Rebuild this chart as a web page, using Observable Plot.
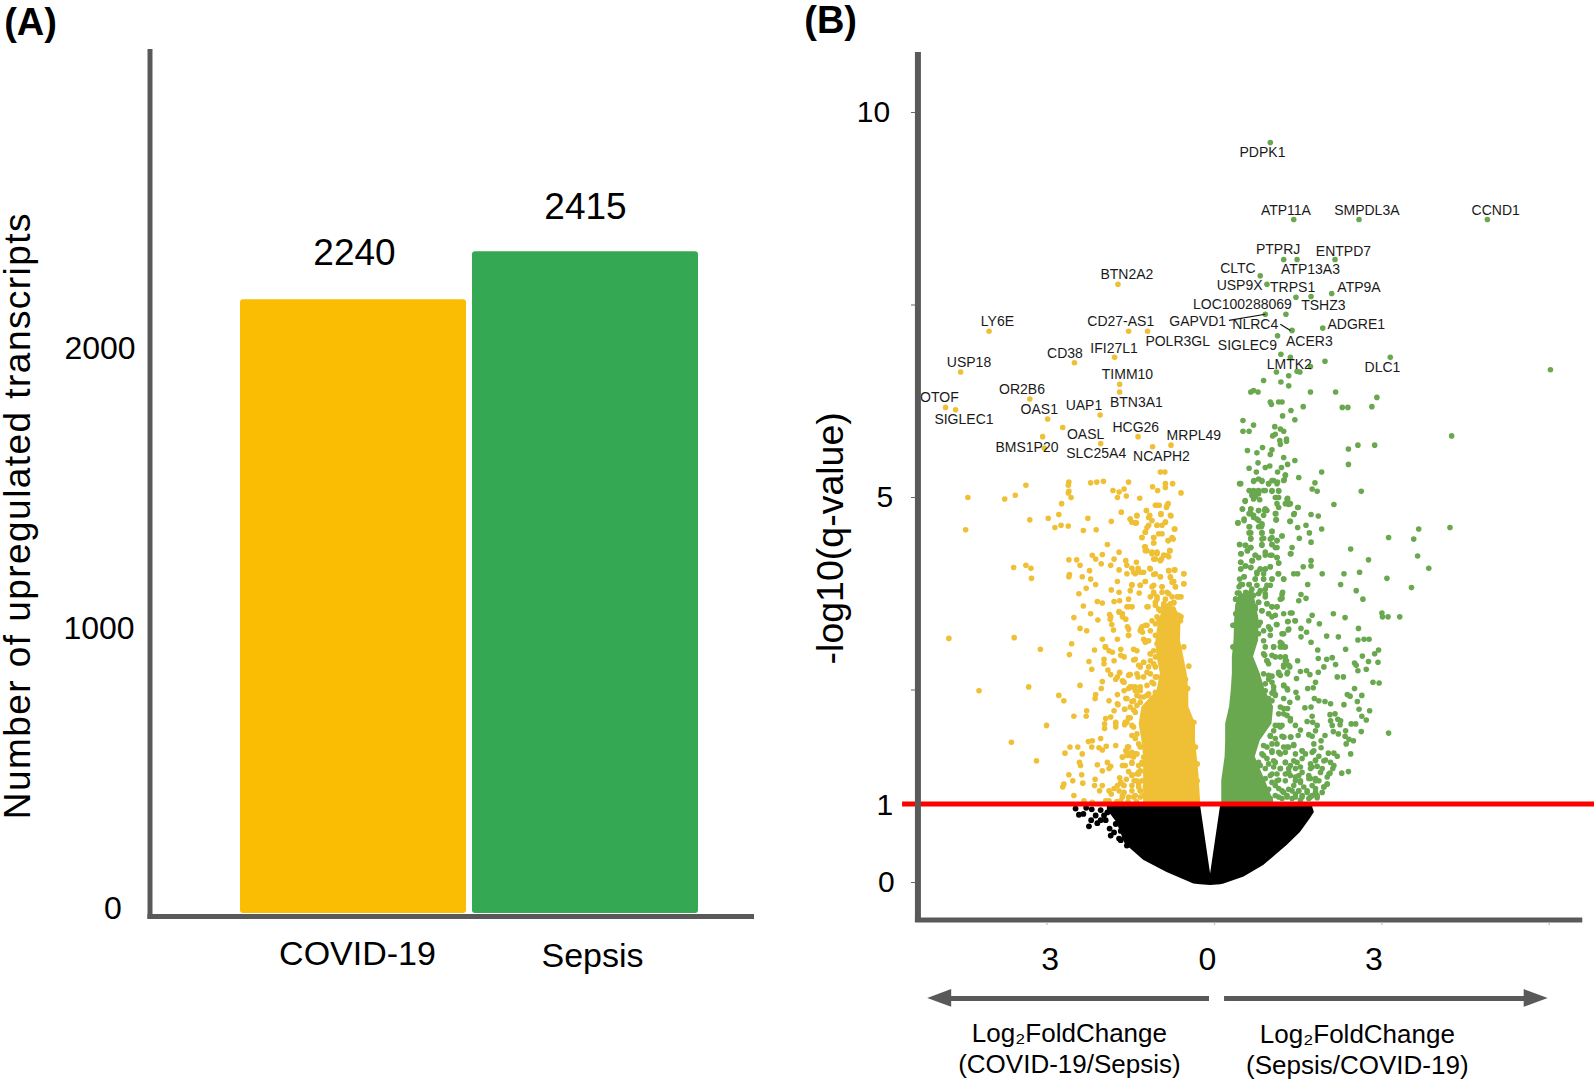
<!DOCTYPE html>
<html><head><meta charset="utf-8">
<script src="https://cdn.jsdelivr.net/npm/d3@7"></script>
<script src="https://cdn.jsdelivr.net/npm/@observablehq/plot@0.6"></script>
<style>
html,body{margin:0;padding:0;background:#fff;overflow:hidden}
#a,#b{position:absolute;top:0}
#a{left:0}#b{left:790px}
svg{overflow:visible;background:transparent;font-family:"Liberation Sans",Arial,sans-serif}
.ylab-a text{letter-spacing:1.45px}
</style></head><body><div id="a"></div><div id="b"></div>
<script>
// Panel A
const groups=["COVID-19","Sepsis"];
const transcripts=[2240,2415];
const barColors=["#FBBC04","#34A853"];
const yTicksA=[0,1000,2000];

// Panel B: named genes [log2FC, -log10 q]
const yellowGenes=[[-1.73,7.77],[-4.04,7.16],[-1.54,7.16],[-1.20,7.16],[-2.51,6.75],[-1.79,6.82],[-4.55,6.63],[-1.70,6.47],[-1.70,6.37],[-3.31,6.28],[-4.82,6.17],[-4.64,6.14],[-2.05,6.07],[-2.99,6.02],[-2.72,5.91],[-3.08,5.79],[-3.05,5.64],[-2.04,5.70],[-1.37,5.79],[-0.78,5.68],[-1.11,5.66],[-0.97,5.33],[-0.89,5.33]];
const greenGenes=[[1.00,9.61],[1.42,8.61],[2.59,8.61],[4.89,8.61],[1.24,8.09],[1.48,8.09],[2.16,8.09],[0.82,7.88],[0.94,7.77],[2.10,7.65],[1.46,7.60],[1.73,7.61],[1.28,7.38],[0.91,7.38],[1.94,7.20],[1.39,7.17],[1.13,7.10],[1.19,6.86],[3.15,6.82],[1.98,6.77],[1.36,6.82],[1.72,6.70],[1.11,6.63],[1.33,6.58],[1.48,6.64],[1.53,6.63],[6.02,6.66]];

const yellowPoints=[[-2.61,5.20],[-2.62,5.16],[-2.61,5.08],[-2.62,5.06],[-2.57,5.00],[-3.38,5.16],[-3.57,5.03],[-3.76,4.98],[-4.42,5.00],[-4.46,4.58],[-2.22,5.19],[-2.11,5.20],[-1.99,5.21],[-1.54,5.20],[-1.82,5.09],[-1.71,5.07],[-1.62,5.11],[-1.74,5.00],[-1.58,5.02],[-1.34,4.99],[-1.11,5.14],[-1.02,5.09],[-0.88,5.18],[-0.88,5.13],[-0.75,5.18],[-0.60,5.06],[-2.74,4.92],[-2.79,4.78],[-2.98,4.73],[-3.31,4.71],[-2.86,4.61],[-2.75,4.64],[-2.62,4.63],[-2.35,4.57],[-2.27,4.73],[-2.12,4.58],[-1.85,4.69],[-1.67,4.81],[-1.51,4.72],[-1.39,4.76],[-1.48,4.68],[-1.40,4.67],[-1.22,4.83],[-1.03,4.90],[-0.85,4.90],[-0.79,4.77],[-0.96,4.79],[-1.18,4.74],[-0.88,4.68],[-1.03,4.64],[-1.21,4.61],[-0.72,4.59],[-1.24,4.55],[-1.30,4.48],[-1.09,4.48],[-0.94,4.53],[-0.76,4.48],[-0.83,4.44],[-1.09,4.41],[-1.25,4.36],[-0.80,4.31],[-1.21,4.31],[-1.12,4.27],[-1.03,4.29],[-1.06,4.20],[-0.91,4.25],[-0.82,4.23],[-0.97,4.18],[-1.92,4.39],[-1.71,4.29],[-2.19,4.25],[-2.01,4.26],[-2.13,4.20],[-2.61,4.19],[-2.47,4.19],[-2.41,4.12],[-1.80,4.20],[-1.59,4.18],[-2.03,4.14],[-1.86,4.12],[-1.40,4.16],[-1.57,4.12],[-3.60,4.09],[-3.38,4.12],[-3.29,4.08],[-3.28,3.95],[-2.60,4.00],[-2.61,3.97],[-2.24,4.05],[-1.71,4.06],[-1.48,4.08],[-1.37,4.08],[-1.16,4.08],[-0.82,4.05],[-0.71,4.06],[-0.55,4.01],[-2.37,3.97],[-2.22,3.94],[-1.57,4.01],[-1.42,4.01],[-1.33,4.03],[-1.09,4.00],[-0.97,3.97],[-0.79,3.96],[-1.74,3.91],[-2.13,3.87],[-2.30,3.82],[-1.24,3.91],[-1.48,3.87],[-1.33,3.86],[-0.76,3.90],[-0.55,3.88],[-0.70,3.84],[-0.94,3.84],[-1.12,3.84],[-1.85,3.80],[-1.51,3.79],[-1.35,3.76],[-2.43,3.75],[-1.71,3.77],[-0.85,3.77],[-1.80,3.65],[-1.70,3.66],[-2.10,3.65],[-2.01,3.63],[-1.54,3.68],[-0.67,3.71],[-0.60,3.71],[-2.35,3.59],[-1.57,3.58],[-1.48,3.58],[-1.19,3.58],[-1.71,3.52],[-2.22,3.49],[-1.88,3.48],[-2.52,3.44],[-2.09,3.41],[-1.65,3.49],[-1.59,3.42],[-1.87,3.42],[-0.60,3.45],[-0.67,3.36],[-1.84,3.35],[-1.56,3.32],[-1.32,3.29],[-1.21,3.34],[-2.41,3.30],[-2.29,3.27],[-1.81,3.28],[-1.29,3.25],[-1.54,3.21],[-1.74,3.16],[-2.01,3.16],[-1.24,3.14],[-1.18,3.14],[-3.59,3.18],[-4.76,3.17],[-2.56,3.10],[-3.12,3.03],[-1.96,3.06],[-1.89,3.01],[-1.68,3.03],[-1.45,3.03],[-2.15,3.02],[-2.60,2.96],[-1.68,2.95],[-1.15,2.97],[-1.98,2.90],[-1.80,2.88],[-2.25,2.87],[-1.45,2.89],[-1.27,2.86],[-1.98,2.84],[-2.20,2.77],[-1.91,2.76],[-1.33,2.80],[-1.21,2.73],[-1.86,2.70],[-1.70,2.72],[-1.51,2.70],[-1.37,2.67],[-2.01,2.61],[-1.77,2.64],[-1.64,2.61],[-2.41,2.56],[-2.03,2.52],[-4.22,2.49],[-3.33,2.54],[-1.51,2.54],[-1.33,2.54],[-1.42,2.49],[-2.79,2.43],[-2.13,2.44],[-1.74,2.44],[-1.62,2.49],[-2.14,2.39],[-2.70,2.36],[-1.89,2.36],[-1.57,2.39],[-1.45,2.36],[-1.33,2.41],[-1.21,2.43],[-1.73,2.31],[-2.29,2.23],[-1.80,2.23],[-1.61,2.25],[-1.45,2.24],[-2.30,2.16],[-2.52,2.16],[-1.95,2.13],[-1.86,2.15],[-1.51,2.14],[-1.57,2.08],[-1.77,2.08],[-1.97,2.06],[-1.61,2.05],[-3.01,2.04],[-1.77,2.02],[-1.97,2.00],[-1.45,2.02],[-1.39,1.93],[-1.27,1.95],[-2.04,1.87],[-2.26,1.83],[-2.19,1.84],[-3.64,1.82],[-1.21,1.84],[-2.20,1.76],[-2.59,1.76],[-2.45,1.76],[-2.07,1.75],[-1.94,1.77],[-1.77,1.78],[-2.01,1.72],[-1.55,1.76],[-1.33,1.76],[-2.68,1.68],[-2.37,1.67],[-1.57,1.69],[-1.39,1.67],[-1.65,1.63],[-1.45,1.63],[-3.19,1.58],[-2.42,1.56],[-2.40,1.52],[-2.10,1.53],[-1.92,1.56],[-1.86,1.51],[-1.65,1.52],[-1.48,1.55],[-2.01,1.45],[-1.89,1.48],[-1.33,1.45],[-2.61,1.40],[-2.38,1.40],[-1.48,1.40],[-1.36,1.41],[-2.14,1.34],[-2.54,1.32],[-2.36,1.29],[-2.70,1.28],[-1.68,1.30],[-1.74,1.26],[-2.15,1.26],[-2.01,1.26],[-1.64,1.27],[-1.39,1.32],[-2.72,1.24],[-1.80,1.22],[-1.36,1.24],[-2.06,1.19],[-1.89,1.19],[-1.85,1.15],[-1.62,1.17],[-1.48,1.19],[-2.52,1.13],[-1.65,1.11],[-1.45,1.11],[-2.34,1.06],[-2.19,1.04],[-1.95,1.06],[-1.89,1.06],[-1.68,1.06]];
const yellowDensePoints=[[-1.21,2.23],[-1.27,2.15],[-1.18,2.06],[-1.30,2.04],[-1.15,1.97],[-1.24,1.80],[-1.12,1.74],[-1.27,1.63],[-1.18,1.56],[-1.30,1.54],[-1.24,1.43],[-1.18,1.35],[-1.30,1.32],[-1.24,1.24],[-1.33,1.19],[-1.27,1.13],[-1.18,1.09],[-1.03,3.71],[-1.09,3.75],[-1.06,3.64],[-1.00,3.55],[-0.91,3.62],[-0.79,3.62],[-0.73,3.64],[-0.70,3.49],[-0.55,3.06],[-0.46,2.81],[-0.52,2.64],[-0.48,2.52],[-0.37,2.08],[-0.34,1.76],[-0.31,1.54],[-0.31,1.32],[-1.06,3.36],[-1.03,3.45],[-0.97,3.27],[-1.03,3.10],[-1.09,3.01],[-1.15,2.88],[-1.06,2.80],[-1.03,2.67],[-1.12,2.60],[-1.06,2.47],[-1.12,2.36]];
const yellowBandPoints=[[-1.65,1.63],[-1.57,1.65],[-1.48,1.69],[-1.54,1.76],[-1.48,1.91],[-1.42,1.87],[-1.36,1.80],[-1.48,2.04],[-1.59,2.08],[-1.54,2.14],[-1.42,2.21],[-1.51,2.28],[-1.61,2.25],[-1.39,2.30],[-1.59,2.39],[-1.48,2.35],[-1.33,2.34],[-1.54,2.52],[-1.42,2.54],[-1.33,2.49],[-1.21,2.56],[-1.18,2.45],[-1.09,2.58],[-1.39,2.43],[-1.27,2.41],[-1.12,2.39],[-1.03,2.41],[-1.54,2.69],[-1.39,2.71],[-1.27,2.67],[-1.15,2.71],[-1.06,2.67],[-1.36,2.82],[-1.27,2.86],[-1.18,2.80],[-1.09,2.84],[-1.15,2.97],[-1.06,2.93],[-1.24,3.12],[-1.39,3.01],[-1.62,2.93],[-1.65,2.62],[-1.74,2.67],[-1.71,1.19],[-1.62,1.26],[-1.48,1.39],[-1.39,1.41],[-1.36,1.28],[-1.48,1.26],[-1.33,1.19],[-1.42,1.13],[-1.65,1.13],[-1.54,1.11],[-1.33,1.11],[-1.48,1.56],[-1.36,1.52],[-1.30,1.56],[-1.36,1.43],[-1.51,1.65],[-1.59,1.71],[-1.42,1.67],[-1.95,3.06],[-1.83,2.99],[-1.42,2.90],[-1.70,2.73],[-1.52,2.70],[-1.62,2.60],[-1.48,2.54],[-1.74,2.32],[-1.60,2.08],[-1.54,2.14],[-1.77,2.06],[-1.56,1.76],[-1.60,1.52],[-1.54,1.44],[-1.70,1.36],[-1.58,1.34],[-1.44,1.32],[-1.40,1.05],[-1.55,1.05],[-1.75,1.05]];
const yellowUpperPoints=[[-1.06,4.90],[-0.99,4.90],[-0.83,4.92],[-0.86,4.87],[-1.22,4.83],[-0.96,4.78],[-0.78,4.76],[-1.16,4.77],[-1.39,4.77],[-1.51,4.72],[-1.42,4.67],[-1.12,4.70],[-1.03,4.64],[-0.88,4.68],[-0.94,4.64],[-1.18,4.64],[-0.71,4.59],[-1.24,4.55],[-1.00,4.53],[-1.30,4.48],[-1.09,4.48],[-0.74,4.46],[-0.83,4.44],[-1.09,4.41],[-1.24,4.36],[-0.80,4.31],[-1.24,4.31],[-1.12,4.29],[-0.85,4.25],[-0.95,4.20],[-1.09,4.20],[-1.03,4.27],[-0.91,4.25],[-0.82,4.05],[-0.72,4.06],[-0.55,4.01],[-1.06,4.01],[-0.97,3.97],[-0.79,3.97],[-1.15,4.07],[-1.27,4.03],[-1.36,4.05],[-1.45,4.03],[-0.73,3.91],[-0.55,3.88],[-0.70,3.84],[-0.94,3.84],[-1.09,3.86],[-1.24,3.91],[-1.33,3.86],[-1.48,3.86],[-1.09,3.77],[-0.94,3.77],[-0.82,3.75],[-0.64,3.71],[-1.15,3.71],[-1.03,3.68],[-0.88,3.68],[-0.76,3.71],[-1.06,3.60],[-1.21,3.58],[-1.48,3.58],[-1.54,3.58],[-0.73,3.63],[-0.82,3.60],[-0.91,3.58],[-0.97,3.53],[-0.79,3.51],[-0.64,3.47],[-0.61,3.40],[-0.88,3.45],[-1.00,3.42],[-0.67,3.36],[-1.12,3.40],[-0.76,3.36],[-1.30,3.32],[-1.24,3.34],[-1.15,3.27],[-1.33,3.27],[-1.54,3.29],[-1.65,3.45],[-1.71,3.51],[-1.86,3.45],[-1.54,3.21],[-1.27,3.16],[-1.06,3.21]];

const greenPoints=[[0.88,6.52],[1.19,6.50],[1.33,6.45],[0.70,6.39],[0.65,6.37],[0.78,6.37],[1.72,6.37],[2.17,6.37],[2.91,6.30],[1.00,6.24],[1.02,6.21],[1.15,6.24],[1.21,6.24],[1.59,6.18],[2.29,6.17],[2.39,6.17],[2.82,6.18],[1.37,6.13],[1.22,6.06],[1.44,6.01],[0.51,6.00],[0.70,5.94],[1.08,5.92],[0.51,5.86],[0.62,5.86],[1.18,5.89],[1.24,5.86],[1.09,5.82],[1.04,5.80],[1.29,5.76],[1.17,5.74],[1.18,5.69],[1.29,5.73],[4.25,5.80],[2.57,5.68],[2.87,5.68],[2.40,5.63],[2.40,5.43],[0.59,5.61],[0.76,5.58],[0.86,5.65],[1.03,5.62],[1.00,5.56],[1.24,5.52],[0.78,5.45],[1.44,5.48],[1.31,5.43],[0.99,5.41],[0.91,5.39],[0.62,5.38],[1.20,5.39],[0.75,5.33],[1.13,5.33],[1.92,5.33],[1.27,5.29],[1.51,5.26],[0.70,5.21],[0.79,5.24],[0.85,5.21],[1.03,5.22],[1.13,5.20],[1.25,5.23],[0.47,5.18],[0.97,5.18],[1.80,5.19],[1.75,5.11],[1.84,5.08],[2.63,5.08],[0.65,5.08],[0.76,5.08],[0.88,5.09],[1.03,5.08],[1.15,5.08],[0.70,5.00],[1.11,5.00],[1.31,4.99],[2.14,4.91],[1.49,4.87],[1.31,4.96],[1.33,4.91],[1.73,4.78],[1.86,4.76],[1.42,4.78],[1.35,4.69],[1.64,4.64],[1.49,4.61],[1.92,4.59],[1.70,4.54],[1.52,4.47],[1.73,4.42],[1.21,4.50],[1.03,4.56],[1.11,4.71],[1.10,4.79],[0.90,4.83],[0.79,4.83],[0.65,4.85],[0.50,4.85],[0.55,4.95],[3.66,4.59],[4.22,4.61],[3.12,4.48],[3.57,4.46],[2.44,4.33],[3.64,4.24],[2.76,4.19],[3.84,4.08],[1.39,4.35],[1.37,4.27],[1.73,4.18],[1.73,4.11],[1.59,4.10],[1.42,4.01],[1.49,4.01],[1.93,4.01],[2.32,4.01],[2.60,4.03],[3.09,3.95],[3.53,3.83],[2.26,3.87],[1.67,3.87],[2.54,3.79],[2.66,3.68],[1.55,3.74],[1.64,3.69],[1.51,3.66],[1.22,3.77],[1.21,3.69],[1.24,3.94],[1.14,4.01],[3.00,3.50],[3.11,3.45],[3.32,3.45],[3.01,3.45],[2.13,3.49],[2.34,3.44],[1.75,3.47],[1.69,3.40],[1.88,3.36],[1.36,3.50],[1.31,3.39],[1.44,3.40],[1.11,3.35],[2.58,3.30],[1.32,3.28],[1.21,3.23],[1.55,3.30],[1.65,3.25],[1.55,3.19],[2.01,3.20],[2.22,3.19],[2.57,3.15],[2.68,3.16],[2.77,3.16],[1.73,3.12],[1.21,3.10],[2.35,3.03],[2.94,3.02],[2.87,2.97],[1.85,3.02],[2.65,2.94],[1.86,2.91],[2.01,2.90],[2.11,2.92],[1.49,2.88],[2.76,2.87],[2.93,2.86],[2.51,2.85],[2.17,2.83],[2.54,2.82],[1.96,2.80],[2.72,2.77],[2.57,2.75],[1.86,2.73],[1.65,2.75],[1.54,2.74],[1.31,2.73],[1.24,2.80],[1.29,2.88],[2.20,2.67],[2.31,2.67],[1.47,2.65],[1.71,2.70],[1.81,2.60],[2.84,2.60],[2.95,2.59],[1.67,2.52],[1.77,2.53],[2.51,2.52],[1.46,2.47],[2.38,2.44],[2.43,2.42],[2.64,2.43],[1.49,2.40],[1.79,2.39],[1.87,2.36],[1.98,2.35],[2.08,2.32],[2.56,2.35],[2.32,2.31],[1.62,2.27],[1.73,2.28],[2.59,2.25],[2.78,2.23],[2.07,2.18],[2.16,2.19],[2.64,2.16],[1.75,2.16],[2.08,2.10],[2.21,2.12],[2.26,2.10],[2.72,2.11],[1.66,2.09],[1.76,2.08],[2.45,2.06],[2.53,2.06],[2.11,2.04],[2.25,2.05],[1.84,2.04],[1.36,2.13],[1.45,2.04],[1.54,1.98],[1.81,1.97],[2.13,1.96],[2.22,1.93],[2.35,1.97],[2.63,1.96],[3.12,1.94],[1.50,1.91],[1.69,1.92],[1.75,1.90],[1.98,1.91],[2.34,1.90],[1.00,1.90],[1.21,1.90],[1.37,1.89],[2.41,1.86],[2.49,1.84],[2.36,1.80],[1.91,1.84],[1.78,1.80],[1.42,1.78],[1.91,1.75],[1.78,1.71],[1.57,1.71],[2.44,1.67],[2.04,1.68],[2.14,1.68],[2.20,1.64],[1.87,1.64],[1.81,1.59],[1.99,1.59],[1.63,1.67],[2.08,1.56],[2.14,1.52],[1.72,1.54],[1.84,1.51],[2.12,1.48],[2.28,1.42],[2.40,1.44],[2.07,1.42],[2.02,1.37],[1.90,1.43],[2.02,1.28],[1.93,1.17],[1.96,1.24],[1.87,1.32]];
const greenDensePoints=[[0.73,5.02],[0.79,5.05],[0.70,4.98],[0.81,4.97],[0.91,4.85],[0.65,4.79],[0.70,4.74],[0.79,4.70],[0.85,4.66],[0.53,4.70],[0.42,4.67],[0.84,4.62],[0.63,4.62],[0.65,4.54],[0.85,4.54],[0.88,4.47],[0.65,4.47],[1.03,4.48],[1.12,4.44],[0.85,4.38],[1.03,4.39],[1.09,4.35],[0.45,4.39],[0.56,4.38],[0.65,4.35],[0.59,4.31],[0.48,4.27],[0.73,4.25],[0.91,4.25],[1.03,4.25],[1.12,4.22],[0.68,4.18],[0.79,4.22],[0.47,4.16],[1.15,4.15],[0.56,4.11],[0.65,4.09],[0.82,4.07],[0.91,4.07],[0.47,4.07],[1.00,4.10],[0.76,4.01],[0.53,3.97],[0.73,3.94],[0.88,3.94],[1.03,3.94],[0.47,3.87],[0.62,3.87],[1.00,3.86],[0.91,3.81],[0.44,3.76],[0.65,3.77],[0.79,3.75],[0.38,3.68],[0.91,3.71],[0.56,3.68],[0.79,3.64],[0.94,3.62],[1.03,3.58],[1.12,3.58],[0.73,3.58],[0.85,3.53],[0.97,3.49],[1.03,3.45],[0.73,3.45],[0.65,3.40],[0.82,3.38],[0.97,3.32],[0.88,3.27],[1.00,3.21],[0.79,3.23],[0.33,3.34],[0.33,3.06],[0.88,3.14],[1.06,3.06],[1.18,3.06],[1.27,3.06],[0.88,2.97],[1.03,2.95],[0.94,2.88],[1.18,2.93],[1.24,2.82],[1.35,2.80],[0.97,2.84],[1.15,2.73],[1.03,2.68],[0.88,2.71],[1.18,2.69],[0.97,2.64],[0.76,2.67],[1.06,2.54],[1.24,2.56],[1.31,2.50],[1.03,2.46],[1.09,2.44],[0.91,2.49],[1.24,2.39],[1.03,2.36],[1.35,2.34],[1.18,2.28],[1.31,2.26],[1.24,2.19],[1.18,2.02],[1.09,2.04],[1.24,1.89],[1.12,1.80],[1.24,1.76],[1.33,1.76],[0.94,1.76],[1.03,1.69],[1.18,1.67],[0.88,1.65],[0.82,1.52],[0.97,1.54],[1.09,1.56],[1.27,1.56],[1.36,1.52],[1.48,1.56],[1.54,1.50],[1.18,1.48],[1.03,1.41],[1.33,1.43],[1.45,1.37],[1.57,1.43],[1.72,1.48],[0.91,1.35],[1.15,1.33],[1.27,1.32],[1.54,1.32],[1.72,1.35],[1.81,1.35],[1.09,1.26],[1.42,1.26],[1.60,1.24],[1.75,1.26],[0.97,1.21],[1.21,1.19],[1.33,1.21],[1.51,1.19],[1.66,1.17],[1.81,1.17],[1.09,1.13],[1.30,1.13],[1.45,1.15],[1.57,1.13],[1.75,1.13],[1.00,1.09],[1.21,1.09],[1.39,1.09],[1.54,1.07],[1.69,1.09],[1.84,1.10]];
const greenUpperPoints=[[0.71,5.22],[0.85,5.22],[0.97,5.18],[1.06,5.22],[1.12,5.18],[1.27,5.29],[1.24,5.22],[0.45,5.18],[0.62,5.09],[0.70,5.09],[0.79,5.09],[0.91,5.09],[1.03,5.09],[1.15,5.09],[0.67,5.03],[0.76,5.05],[0.73,5.01],[1.09,5.00],[1.15,5.00],[1.12,4.92],[1.15,4.87],[1.30,4.98],[1.27,4.92],[1.36,4.92],[1.50,4.87],[0.55,4.96],[0.50,4.85],[0.65,4.85],[0.79,4.83],[0.91,4.85],[0.94,4.83],[0.62,4.79],[0.70,4.77],[0.76,4.72],[0.88,4.77],[0.53,4.72],[0.42,4.67],[0.79,4.62],[0.85,4.64],[1.09,4.79],[1.10,4.71],[1.43,4.79],[1.36,4.69],[0.62,4.62],[0.62,4.54],[0.85,4.54],[1.03,4.56],[1.21,4.50],[1.00,4.46],[1.12,4.44],[0.85,4.46],[0.65,4.46],[0.45,4.39],[0.55,4.38],[0.65,4.35],[0.85,4.39],[1.03,4.39],[1.12,4.35],[1.36,4.27],[0.59,4.31],[0.47,4.27],[0.73,4.25],[0.91,4.29],[1.00,4.25],[1.12,4.22],[0.47,4.16],[0.67,4.18],[0.79,4.22],[1.15,4.15],[0.47,4.07],[0.55,4.11],[0.65,4.09],[0.82,4.07],[0.91,4.07],[1.00,4.10],[0.88,4.01],[0.76,4.03],[1.15,4.01],[0.53,3.97],[0.45,3.94],[0.73,3.94],[0.88,3.94],[1.03,3.94],[1.24,3.94],[0.50,3.87],[0.62,3.87],[0.76,3.86],[0.94,3.86],[0.44,3.84],[0.67,3.81],[0.82,3.79],[0.41,3.76],[0.56,3.77],[0.70,3.73],[0.91,3.75],[1.21,3.74],[1.18,3.68],[0.38,3.68],[0.50,3.68],[0.62,3.64],[0.79,3.64],[0.94,3.62],[1.03,3.58],[1.12,3.58],[0.44,3.55],[0.62,3.53],[0.73,3.55],[0.85,3.53],[0.38,3.49],[0.53,3.45],[0.70,3.45],[0.97,3.49],[1.09,3.47],[1.24,3.49],[1.39,3.50],[1.32,3.39],[1.45,3.40],[1.12,3.35],[0.35,3.34],[0.47,3.32],[0.62,3.29],[0.79,3.34],[1.00,3.29],[1.24,3.23],[1.33,3.29]];
const greenBandPoints=[[1.15,1.11],[1.30,1.11],[1.45,1.11],[1.57,1.11],[1.72,1.11],[1.84,1.13],[1.15,1.22],[1.24,1.17],[1.39,1.19],[1.51,1.19],[1.66,1.19],[1.81,1.22],[1.96,1.24],[1.03,1.30],[1.12,1.32],[1.45,1.32],[1.54,1.30],[1.69,1.35],[1.81,1.32],[2.02,1.28],[1.00,1.39],[1.12,1.41],[1.27,1.41],[1.36,1.39],[1.51,1.39],[1.69,1.39],[2.05,1.41],[0.91,1.48],[1.06,1.50],[1.18,1.48],[1.33,1.48],[1.45,1.48],[1.75,1.50],[1.93,1.48],[0.79,1.56],[0.94,1.61],[1.06,1.58],[1.27,1.56],[1.42,1.58],[1.57,1.61],[1.81,1.58],[1.96,1.58],[0.85,1.67],[1.03,1.71],[1.15,1.69],[1.27,1.69],[1.45,1.67],[1.57,1.71],[1.75,1.69],[0.88,1.78],[1.03,1.80],[1.30,1.76],[1.42,1.79],[1.09,1.87],[1.24,1.89],[1.00,1.91],[1.36,1.89],[1.06,1.97],[1.15,2.04],[1.21,2.04],[1.36,2.10],[1.30,2.17],[1.15,2.19],[1.24,2.26],[0.97,2.39],[1.06,2.49],[1.09,2.43],[1.24,2.56],[1.30,2.52],[0.91,2.58],[1.03,2.60],[1.15,2.71],[1.30,2.71],[0.97,2.69],[0.94,2.88],[1.09,2.93],[1.27,2.88],[1.24,2.82],[1.33,2.82],[0.91,3.06],[1.06,3.06],[1.24,3.06],[1.18,3.12],[0.90,2.95],[1.27,2.93]];
const blackTailPoints=[[-2.49,0.96],[-2.43,0.88],[-2.35,0.89],[-2.25,0.73],[-2.21,0.81],[-2.10,0.77],[-2.13,0.87],[-1.98,0.87],[-2.04,0.94],[-1.92,0.91],[-1.88,0.70],[-1.86,0.61],[-1.77,0.76],[-1.71,0.57],[-1.68,0.67],[-1.80,0.65],[-1.95,0.81],[-2.04,0.81],[-1.74,0.85],[-1.57,0.48],[-1.68,0.55],[-1.61,0.59],[-2.30,0.97],[-2.20,0.95]];

// dense solid masses
const yellowMassY=[1.00,1.06,1.41,1.63,1.84,2.06,2.28,2.49,2.71,2.93,3.14,3.40,3.58];
const yellowMassLeft=[-1.27,-1.27,-1.27,-1.27,-1.30,-1.35,-1.30,-1.03,-0.97,-1.03,-1.05,-1.00,-0.90];
const yellowMassRight=[-0.25,-0.25,-0.28,-0.31,-0.34,-0.34,-0.46,-0.46,-0.49,-0.55,-0.61,-0.60,-0.70];
const greenMassY=[1.00,1.06,1.32,1.63,1.84,2.06,2.28,2.49,2.71,2.93,3.14,3.40,3.60,3.75];
const greenMassLeft=[0.13,0.13,0.13,0.19,0.20,0.20,0.27,0.30,0.32,0.32,0.35,0.36,0.38,0.45];
const greenMassRight=[1.06,1.06,0.91,0.73,0.82,1.03,1.06,0.91,0.82,0.70,0.79,0.80,0.75,0.70];
const blackMassX=[-1.92,-1.75,-1.60,-1.27,-0.85,-0.37,-0.25,-0.07,0.11,0.17,0.53,0.88,1.30,1.54,1.72,1.79,1.75];
const blackMassLow=[0.94,0.78,0.50,0.29,0.13,-0.02,-0.03,-0.04,-0.03,-0.02,0.07,0.22,0.48,0.65,0.83,0.91,1.00];
const blackMassTop=[1,1,1,1,1,1,1,0.11,1,1,1,1,1,1,1,1,1];

const geneLabels=["BTN2A2","LY6E","CD27-AS1","GAPVD1","POLR3GL","SIGLEC9","IFI27L1","CD38","USP18","TIMM10","OR2B6","OTOF","BTN3A1","OAS1","UAP1","SIGLEC1","HCG26","OASL","MRPL49","BMS1P20","SLC25A4","NCAPH2","PDPK1","ATP11A","SMPDL3A","CCND1","PTPRJ","ENTPD7","CLTC","ATP13A3","USP9X","TRPS1","ATP9A","LOC100288069","TSHZ3","NLRC4","ADGRE1","ACER3","LMTK2","DLC1"];
const geneLabelX=[-1.57,-3.89,-1.68,-0.30,-0.66,0.59,-1.80,-2.68,-4.40,-1.56,-3.45,-4.93,-1.40,-3.14,-2.34,-4.49,-1.41,-2.31,-0.37,-3.36,-2.12,-0.95,0.86,1.28,2.73,5.04,1.14,2.31,0.42,1.72,0.45,1.40,2.59,0.50,1.95,0.73,2.54,1.70,1.34,3.01];
const geneLabelY=[7.89,7.29,7.29,7.28,7.03,6.97,6.94,6.87,6.75,6.60,6.40,6.30,6.24,6.14,6.19,6.01,5.91,5.82,5.81,5.65,5.57,5.53,9.48,8.73,8.73,8.73,8.22,8.20,7.98,7.96,7.75,7.73,7.73,7.50,7.49,7.25,7.25,7.03,6.73,6.69];
const leaderLines=[[0.26,7.30,0.91,7.38],[1.18,7.25,1.36,7.17]];

const yTickValuesB=[0,2.5,5,7.5,10];
const yTickLabelsB=[[0,-5.88],[1,-5.91],[5,-5.91],[10,-6.11]];
const xTickValuesB=[-3,0,3,6];

const FONT='"Liberation Sans",Arial,sans-serif';
const GREY="#595959";

// ---- Panel A
const rowsA=groups.map((g,i)=>({g,v:transcripts[i],c:barColors[i]}));
const tickDy=[-5,-11,-17];
const tickX=[-37,-51,-50];
const chartA=Plot.plot({
  width:790,height:1079,marginLeft:149.5,marginRight:39,marginTop:51,marginBottom:163,
  style:{fontFamily:FONT,overflow:"visible"},
  x:{domain:groups,range:[239,698],paddingInner:0.026,paddingOuter:0,axis:null},
  y:{domain:[0,3000],range:[913,91],axis:null},
  marks:[
    Plot.barY(rowsA,{x:"g",y:"v",fill:"c",rx:3}),
    Plot.frame({anchor:"left",stroke:GREY,strokeWidth:5}),
    Plot.frame({anchor:"bottom",stroke:GREY,strokeWidth:5}),
    ...yTicksA.map((t,i)=>Plot.text([t],{y:d=>d,frameAnchor:"left",text:d=>String(d),textAnchor:"middle",dx:tickX[i],dy:tickDy[i],fontSize:32,fill:"#000"})),
    Plot.text([rowsA[0]],{x:"g",y:"v",text:d=>String(d.v),dy:-47,dx:1,fontSize:37,fill:"#000"}),
    Plot.text([rowsA[1]],{x:"g",y:"v",text:d=>String(d.v),dy:-45,fontSize:37,fill:"#000"}),
    Plot.text([rowsA[0]],{x:"g",y:()=>0,text:"g",dy:41,dx:4,fontSize:34,fill:"#000"}),
    Plot.text([rowsA[1]],{x:"g",y:()=>0,text:"g",dy:43,dx:7,fontSize:34,fill:"#000"}),
    Plot.text(["Number of upregulated transcripts"],{y:()=>1452,frameAnchor:"left",textAnchor:"middle",dx:-131.5,rotate:-90,fontSize:37,text:d=>d,fill:"#000",className:"ylab-a"}),
    Plot.text(["(A)"],{frameAnchor:"top-left",dx:-119.5,dy:-29,textAnchor:"middle",fontSize:38,fontWeight:"bold",text:d=>d,fill:"#000",lineAnchor:"middle"})
  ]
});
document.getElementById("a").append(chartA);

// ---- Panel B
const toP=a=>a.map(([x,y])=>({x,y}));
const massY=(ys,l,r)=>ys.map((y,i)=>({y,l:l[i],r:r[i]}));
const blackMass=blackMassX.map((x,i)=>({x,lo:blackMassLow[i],hi:blackMassTop[i]}));
const YEL="#EFC035",GRN="#6AA84F";
const headL=[{x:-5.14,a:-1.506,b:-1.506},{x:-4.71,a:-1.62,b:-1.39}];
const headR=[{x:5.55,a:-1.62,b:-1.39},{x:5.98,a:-1.506,b:-1.506}];
const chartB=Plot.plot({
  width:804,height:1079,margin:0,
  style:{fontFamily:FONT,overflow:"visible"},
  x:{domain:[-6,6.7],range:[89.2,797.86],axis:null},
  y:{domain:[-0.5,10.5],range:[920.5,73.5],axis:null},
  marks:[
    Plot.areaY(blackMass,{x:"x",y1:"lo",y2:"hi",fill:"#000"}),
    Plot.dot(toP(blackTailPoints),{x:"x",y:"y",r:2.9,fill:"#000"}),
    Plot.areaX(massY(yellowMassY,yellowMassLeft,yellowMassRight),{y:"y",x1:"l",x2:"r",fill:YEL}),
    Plot.areaX(massY(greenMassY,greenMassLeft,greenMassRight),{y:"y",x1:"l",x2:"r",fill:GRN}),
    Plot.dot(toP(yellowPoints.concat(yellowDensePoints,yellowBandPoints,yellowUpperPoints,yellowGenes)),{x:"x",y:"y",r:2.8,fill:YEL}),
    Plot.dot(toP(greenPoints.concat(greenDensePoints,greenUpperPoints,greenBandPoints,greenGenes)),{x:"x",y:"y",r:2.8,fill:GRN}),
    Plot.ruleY([1.02],{x1:-5.59,x2:6.81,stroke:"#f00",strokeWidth:5}),
    Plot.link(leaderLines,{x1:d=>d[0],y1:d=>d[1],x2:d=>d[2],y2:d=>d[3],stroke:"#111",strokeWidth:1.2}),
    Plot.text(geneLabels,{x:(d,i)=>geneLabelX[i],y:(d,i)=>geneLabelY[i],text:d=>d,fontSize:14,fill:"#1a1a1a"}),
    // axes
    Plot.ruleX([-5.315],{y1:-0.52,y2:10.78,stroke:GREY,strokeWidth:6}),
    Plot.ruleY([-0.487],{x1:-5.36,x2:6.6,stroke:GREY,strokeWidth:5}),
    Plot.ruleY(yTickValuesB,{x1:-5.43,x2:-5.35,stroke:"#666",strokeWidth:1}),
    Plot.ruleX(xTickValuesB,{y1:-0.53,y2:-0.56,stroke:"#ccc",strokeWidth:1.5}),
    Plot.text(yTickLabelsB,{x:d=>d[1],y:d=>d[0],text:d=>String(d[0]),fontSize:30,fill:"#000"}),
    Plot.text([-3],{x:d=>d,y:()=>-1,text:()=>"3",dx:3,fontSize:32,fill:"#000"}),
    Plot.text([0],{x:d=>d,y:()=>-1,text:()=>"0",dx:-7,fontSize:32,fill:"#000"}),
    Plot.text([3],{x:d=>d,y:()=>-1,text:()=>"3",dx:-8,fontSize:32,fill:"#000"}),
    Plot.text(["-log10(q-value)"],{x:()=>-6.88,y:()=>4.47,rotate:-90,text:d=>d,fontSize:37.5,fill:"#000"}),
    Plot.text(["(B)"],{x:()=>-6.88,y:()=>11.19,text:d=>d,fontSize:38,fontWeight:"bold",fill:"#000"}),
    // direction arrows
    Plot.ruleY([-1.506],{x1:-4.75,x2:-0.09,stroke:GREY,strokeWidth:5}),
    Plot.ruleY([-1.506],{x1:0.18,x2:5.6,stroke:GREY,strokeWidth:5}),
    Plot.areaY(headL,{x:"x",y1:"a",y2:"b",fill:GREY}),
    Plot.areaY(headR,{x:"x",y1:"a",y2:"b",fill:GREY}),
    Plot.text(["Log₂FoldChange"],{x:()=>-2.60,y:()=>-1.96,text:d=>d,fontSize:26,fill:"#000"}),
    Plot.text(["(COVID-19/Sepsis)"],{x:()=>-2.60,y:()=>-2.37,text:d=>d,fontSize:26,fill:"#000"}),
    Plot.text(["Log₂FoldChange"],{x:()=>2.56,y:()=>-1.97,text:d=>d,fontSize:26,fill:"#000"}),
    Plot.text(["(Sepsis/COVID-19)"],{x:()=>2.56,y:()=>-2.38,text:d=>d,fontSize:26,fill:"#000"})
  ]
});
document.getElementById("b").append(chartB);
</script></body></html>
